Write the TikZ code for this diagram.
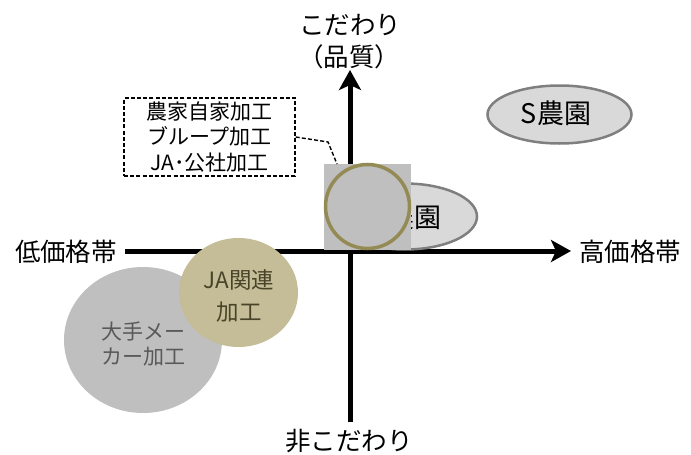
\documentclass[tikz,border=0pt]{standalone}
\usepackage{fontspec}
\setmainfont{Noto Sans CJK JP}
\usetikzlibrary{arrows.meta}
\definecolor{ellfill}{HTML}{D9D9D9}
\definecolor{ellline}{HTML}{7F7F7F}
\definecolor{sqgray}{HTML}{BFBFBF}
\definecolor{olivering}{HTML}{948A54}
\definecolor{tanfill}{HTML}{C4BD97}
\definecolor{tantext}{HTML}{494429}
\definecolor{graytext}{HTML}{595959}
\tikzset{
  axis/.style={line width=5pt, -{Stealth[length=20pt,width=22pt,inset=5pt]}},
  axislabel/.style={font=\fontsize{25.5}{31}\selectfont, inner sep=0pt, align=center},
  boxtext/.style={font=\fontsize{21}{25.5}\selectfont, align=center, inner sep=0pt},
  leader/.style={line width=1.4pt, dash pattern=on 4pt off 2.2pt},
}
\begin{document}
\begin{tikzpicture}[x=1pt,y=-1pt]
\useasboundingbox (0,0) rectangle (691,455);
% axes
\coordinate (hl) at (125,251);
\coordinate (hr) at (571,251);
\coordinate (vb) at (350,422);
\coordinate (vt) at (350,70);
\draw[axis] (hl) -- (hr);
\draw[axis] (vb) -- (vt);
\node[axislabel] (top) at (350,25) {こだわり};
\node[axislabel] (topq) at (349,57) {（品質）};
\node[axislabel] (bot) at (349,441) {非こだわり};
\node[axislabel] (low) at (66,252) {低価格帯};
\node[axislabel] (high) at (630,252) {高価格帯};
% farms
\draw[fill=ellfill, draw=ellline, line width=2.5pt] (559.5,114.5) ellipse [x radius=72, y radius=29];
\node[font=\fontsize{27}{30}\selectfont, inner sep=0pt] (sfarm) at (556,113) {S農園};
\draw[fill=ellfill, draw=ellline, line width=2.5pt] (405,216.5) ellipse [x radius=72, y radius=33];
\node[font=\fontsize{27}{30}\selectfont, inner sep=0pt] (tfarm) at (406.5,217) {S農園};
% big maker
\fill[sqgray] (143,340) ellipse [x radius=79, y radius=73];
\node[boxtext, text=graytext] (maker) at (143,344) {大手メー\\カー加工};
% JA
\fill[tanfill] (238.5,292.5) ellipse [x radius=59.5, y radius=54.5];
\node[boxtext, font=\fontsize{22.5}{32}\selectfont, text=tantext] (ja) at (239,296) {JA関連\\加工};
% square + ring
\fill[sqgray] (324,164) rectangle (411,250);
\node[circle, minimum size=84pt, draw=olivering, line width=3.5pt, inner sep=0pt] (ring) at (367.5,206.5) {};
% dashed box
\node[boxtext, draw, leader, minimum width=171pt, minimum height=78pt] (box) at (209.5,137) {農家自家加工\\ブループ加工\\JA･公社加工};
\coordinate (lk) at (328,142);
\coordinate (le) at (337,164);
\draw[leader] (box.east) -- (lk) -- (le);
\end{tikzpicture}
\end{document}
